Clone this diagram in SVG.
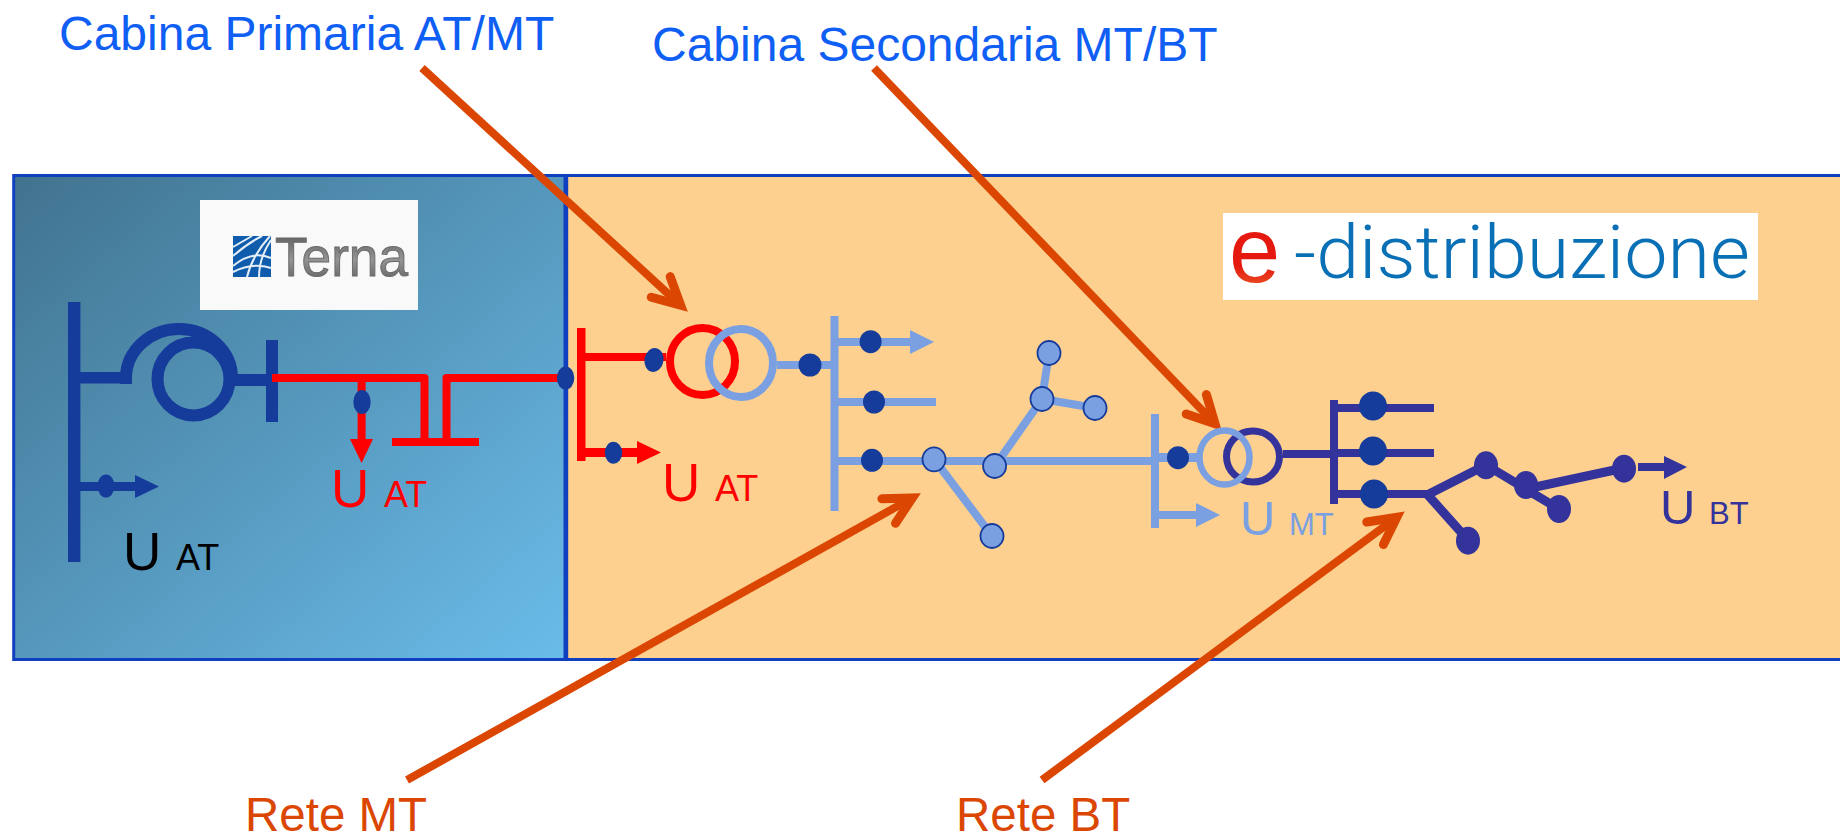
<svg xmlns="http://www.w3.org/2000/svg" width="1840" height="834" viewBox="0 0 1840 834">
<style>
text{font-family:"Liberation Sans",Arial,sans-serif}
.head{font-size:48px;fill:#0f5ff5}
.or{font-size:47.5px;fill:#db4703}
.big{font-size:53px}.sub{font-size:36px}
.mt{font-size:49px}.subs{font-size:31px}
.arr{fill:none;stroke:#db4703;stroke-width:8}
.navy{fill:#153b9b}.red{fill:#f00}.lt{fill:#7aa0e2}.dk{fill:#33339b}
.rl{fill:none;stroke:#f00;stroke-width:8}
.ll{fill:none;stroke:#7aa0e2;stroke-width:8}
.dl{fill:none;stroke:#33339b;stroke-width:9}
.nl{fill:none;stroke:#153b9b;stroke-width:12}
.node{fill:#7aa0e2;stroke:#153b9b;stroke-width:1.8}
.wl{fill:none;stroke:#e4eef8;stroke-width:2}
</style>
<defs>
<linearGradient id="gb" x1="0" y1="0" x2="1" y2="1"><stop offset="0" stop-color="#41738f"/><stop offset="1" stop-color="#6abcea"/></linearGradient>
<linearGradient id="gt" x1="0" y1="0" x2="0" y2="1"><stop offset="0" stop-color="#4c4c4c"/><stop offset=".55" stop-color="#949494"/><stop offset="1" stop-color="#555"/></linearGradient>
<linearGradient id="ge" x1="0" y1="0" x2="0" y2="1"><stop offset="0" stop-color="#e5190f"/><stop offset=".65" stop-color="#e5190f"/><stop offset="1" stop-color="#ee7030"/></linearGradient>
<marker id="oh" markerUnits="userSpaceOnUse" orient="auto" overflow="visible" markerWidth="60" markerHeight="60" refX="0" refY="0"><path d="M-27,-14 L0,0 L-27,14" fill="none" stroke="#db4703" stroke-width="9" stroke-linecap="round" stroke-miterlimit="10"/></marker>
</defs>

<g id="panel-edistribuzione"><rect x="566.7" y="175.5" width="1290" height="484" fill="#fdd08f" stroke="#1040c0" stroke-width="3"/></g>
<g id="panel-terna"><rect x="13.7" y="175.5" width="551.3" height="484" fill="url(#gb)" stroke="#1040c0" stroke-width="3"/></g>

<g id="logo-terna">
<rect x="200" y="200" width="218" height="110" fill="#f9f9f9"/>
<rect x="233" y="236" width="38" height="41" fill="#0f5cad"/>
<path class="wl" d="M233,247 L252,236 M233,256 Q248,243 262,236 M233,266 Q252,250 271,258 M233,272 Q252,262 271,268 M247,277 Q252,256 270,236 M259,277 Q259,258 271,240"/>
<text x="275" y="276" font-size="56" fill="url(#gt)" stroke="#6a6a6a" stroke-width="1" textLength="133" lengthAdjust="spacingAndGlyphs">Terna</text>
</g>
<g id="logo-edistribuzione">
<rect x="1223" y="213" width="535" height="87" fill="#fff"/>
<text y="278"><tspan x="1229" y="282" font-size="92" fill="url(#ge)">e</tspan><tspan x="1294" y="278" font-size="75" fill="#0a70b5" font-family="Roboto" font-weight="300" textLength="456" lengthAdjust="spacingAndGlyphs">-distribuzione</tspan></text>
</g>

<g id="connectors">
<path class="arr" d="M422,68 L680.6,305.2" marker-end="url(#oh)"/>
<path class="arr" d="M874,68 L1215,423.8" marker-end="url(#oh)"/>
<path class="arr" d="M407,780 L912.3,497.9" marker-end="url(#oh)"/>
<path class="arr" d="M1042,780 L1396.8,517.2" marker-end="url(#oh)"/>
</g>

<g id="terna-station">
<rect class="navy" x="68" y="302" width="12.4" height="260"/>
<rect class="navy" x="80" y="372" width="52" height="11.5"/>
<path class="nl" d="M126,384 V378 A53,49 0 0 1 232,378"/>
<ellipse class="nl" cx="193.5" cy="379" rx="36" ry="36.5"/>
<rect class="navy" x="232" y="374" width="36" height="12"/>
<rect class="navy" x="266" y="340" width="12" height="82"/>
<rect class="navy" x="80" y="482" width="57" height="9"/>
<ellipse class="navy" cx="106" cy="486" rx="8.5" ry="11.5"/>
<path class="navy" d="M135,475 L159,486.5 L135,498Z"/>
</g>
<g id="terna-hv-line">
<path class="rl" stroke-linejoin="round" d="M272,378 H424.5 V440 M446.5,440 V378 H566"/>
<rect class="red" x="392" y="438" width="87" height="8"/>
<path class="rl" stroke-width="7" d="M361.6,378 V441"/>
<path class="red" d="M350,439 H373 L361.6,463Z"/>
<ellipse class="navy" cx="362" cy="402" rx="8.7" ry="12"/>
<ellipse class="navy" cx="565.6" cy="378" rx="8.7" ry="11.5"/>
</g>
<g id="primary-substation">
<rect class="red" x="577" y="328" width="8.5" height="133"/>
<rect class="red" x="585" y="353" width="81" height="8"/>
<rect class="red" x="585" y="448" width="55" height="9"/>
<path class="red" d="M637,441 L661,452.5 L637,464Z"/>
<ellipse class="navy" cx="613.5" cy="452.7" rx="8.7" ry="11"/>
<ellipse class="navy" cx="654" cy="360" rx="9.5" ry="12" transform="rotate(10 654 360)"/>
<ellipse class="rl" cx="702.5" cy="361.5" rx="32.5" ry="33.5"/>
<ellipse class="ll" cx="741" cy="363" rx="32" ry="34"/>
</g>
<g id="mv-network">
<rect class="lt" x="777" y="361" width="55" height="8"/>
<ellipse class="navy" cx="810" cy="365" rx="11.5" ry="11.5"/>
<rect class="lt" x="830.5" y="316" width="8" height="195"/>
<rect class="lt" x="838" y="338" width="73" height="8"/>
<path class="lt" d="M910,330 L934,342 L910,354Z"/>
<rect class="lt" x="838" y="398" width="98" height="8"/>
<rect class="lt" x="838" y="457" width="315" height="8"/>
<ellipse class="navy" cx="870.6" cy="341.7" rx="11" ry="11.5"/>
<ellipse class="navy" cx="874" cy="402" rx="11" ry="11.5"/>
<ellipse class="navy" cx="872" cy="460.3" rx="11" ry="11.5"/>
<path class="ll" d="M934,459 L992,536 M995,466 L1042,399 L1049,353 M1042,399 L1095,408"/>
<ellipse class="node" cx="934" cy="459.3" rx="11.5" ry="12"/>
<ellipse class="node" cx="994.6" cy="466" rx="11.5" ry="12"/>
<ellipse class="node" cx="1042" cy="399" rx="11.5" ry="12"/>
<ellipse class="node" cx="1049" cy="353" rx="11.5" ry="12"/>
<ellipse class="node" cx="1095" cy="408" rx="11.5" ry="12"/>
<ellipse class="node" cx="992" cy="536" rx="11.5" ry="12"/>
</g>
<g id="secondary-substation">
<rect class="lt" x="1151" y="414" width="8" height="114"/>
<rect class="lt" x="1159" y="511" width="39" height="8"/>
<path class="lt" d="M1196,503 L1220,515 L1196,527Z"/>
<rect class="lt" x="1159" y="453" width="39" height="9"/>
<ellipse class="navy" cx="1178" cy="457.7" rx="11" ry="11.5"/>
<ellipse class="dl" cx="1253" cy="456.5" rx="26.5" ry="25.5" style="stroke-width:7"/>
<ellipse class="ll" cx="1224.5" cy="457.5" rx="25" ry="27" style="stroke-width:6.5"/>
</g>
<g id="lv-network">
<rect class="dk" x="1283" y="450" width="52" height="8"/>
<rect class="dk" x="1330" y="400" width="8" height="104"/>
<rect class="dk" x="1338" y="404" width="96" height="8"/>
<rect class="dk" x="1338" y="449" width="96" height="8"/>
<rect class="dk" x="1338" y="490" width="90" height="8"/>
<ellipse class="navy" cx="1373" cy="406" rx="14" ry="14.5"/>
<ellipse class="navy" cx="1373" cy="451" rx="14" ry="14.5"/>
<ellipse class="navy" cx="1374" cy="494" rx="14" ry="14.5"/>
<path class="dl" d="M1427,495 L1486,465 M1427,494 L1468,540 M1486,465 L1559,509 M1526,489 L1624,468" style="stroke-linejoin:round"/>
<ellipse class="dk" cx="1486" cy="465.3" rx="12" ry="14"/>
<ellipse class="dk" cx="1526" cy="485" rx="12" ry="14"/>
<ellipse class="dk" cx="1559" cy="509" rx="12" ry="14"/>
<ellipse class="dk" cx="1624" cy="468.7" rx="12" ry="14"/>
<ellipse class="dk" cx="1468" cy="540.7" rx="12" ry="14"/>
<rect class="dk" x="1638" y="463" width="28" height="8"/>
<path class="dk" d="M1664,456 L1687,467 L1664,479Z"/>
</g>

<g id="labels">
<text class="head" x="59" y="50">Cabina Primaria AT/MT</text>
<text class="head" x="652" y="61">Cabina Secondaria MT/BT</text>
<text class="or" x="245" y="830.5">Rete MT</text>
<text class="or" x="956" y="830.5">Rete BT</text>
<text x="123" y="570" fill="#000"><tspan class="big">U </tspan><tspan class="sub">AT</tspan></text>
<text x="331" y="507" fill="#f00"><tspan class="big">U </tspan><tspan class="sub">AT</tspan></text>
<text x="662" y="501" fill="#f00"><tspan class="big">U </tspan><tspan class="sub">AT</tspan></text>
<text x="1240" y="535" fill="#7aa0e2"><tspan class="mt">U </tspan><tspan class="subs">MT</tspan></text>
<text x="1660" y="524" fill="#33339b"><tspan class="mt">U </tspan><tspan class="subs">BT</tspan></text>
</g>
</svg>
